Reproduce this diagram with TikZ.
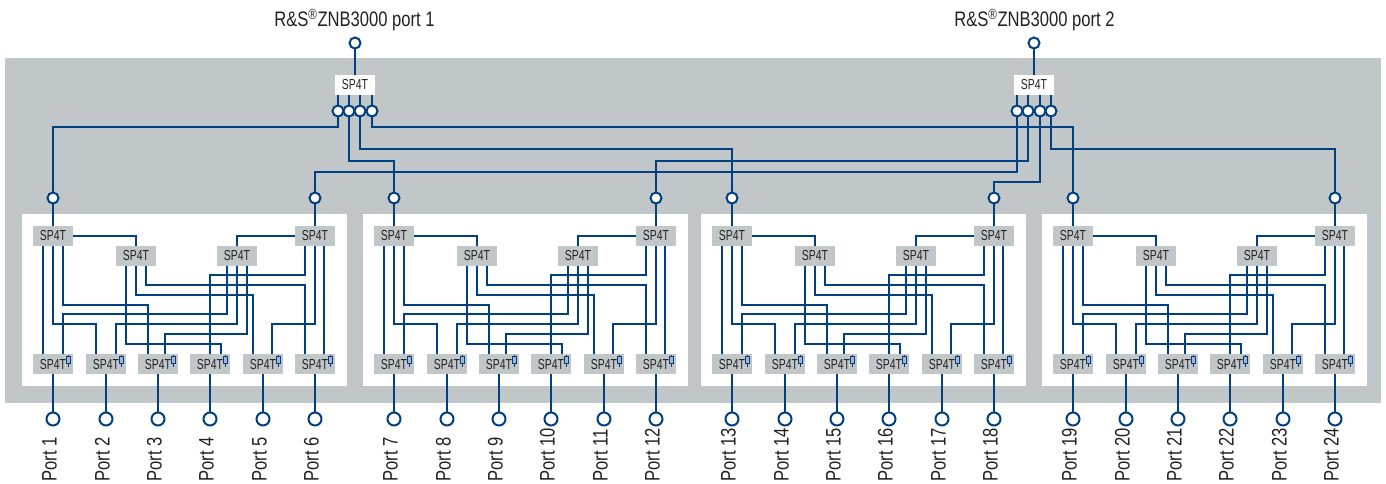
\documentclass[tikz,border=0pt]{standalone}
\usepackage{fontspec}
\setmainfont[FakeStretch=0.79]{Liberation Sans}
\newfontfamily\swfont[FakeStretch=0.72]{Liberation Sans}
\definecolor{bluel}{HTML}{004080}
\definecolor{grayb}{HTML}{C1C6C9}
\definecolor{txt}{HTML}{222222}
\tikzset{x=1pt,y=-1pt,
 wire/.style={draw=bluel,line width=1.8pt,line join=miter},
 sw/.style={rectangle,fill=grayb,minimum width=40pt,minimum height=20pt,inner sep=0pt,outer sep=0pt,font=\swfont\fontsize{14.5}{14.5}\selectfont,text=txt},
 swtop/.style={sw,fill=white},
 term/.style={circle,draw=bluel,line width=2pt,fill=white,minimum size=11pt,inner sep=0pt,outer sep=0pt},
 bigterm/.style={term,minimum size=13pt},
 lab/.style={font=\fontsize{21}{21}\selectfont,text=txt,inner sep=0pt},
 ico/.style={draw=bluel,line width=.7pt,fill=blue!10!grayb}}
\newcommand{\icon}[1]{%
 \draw[bluel,line width=.8pt] (#1+15,355)--(#1+15,367);
 \draw[ico] (#1+13,356.5) rectangle (#1+17,363);}
\newcommand{\route}[3]{\draw[wire] (#1) -- ++(0,#2) -| (#3);}
\newcommand{\module}[2]{% x offset, first port number
 \node[fill=white,minimum width=325pt,minimum height=172pt,inner sep=0pt] (wh#2) at (#1+184.5,300) {};
 \foreach \i/\xx in {0/53,1/106,2/158,3/210,4/263,5/315}{
  \pgfmathtruncatemacro{\nn}{#2+\i}
  \node[sw] (b#2x\i) at (#1+\xx,364) {SP4T};
  \node[bigterm] (p\nn) at (#1+\xx,419) {};
  \draw[wire] (b#2x\i.south) -- (p\nn.north);
  \node[lab,rotate=90,anchor=west] (t\nn) at (#1+\xx-3.5,482) {Port \nn};
 }
 \node[sw] (A#2) at (#1+53,236) {SP4T};
 \node[sw] (B#2) at (#1+136,256) {SP4T};
 \node[sw] (C#2) at (#1+237,256) {SP4T};
 \node[sw] (D#2) at (#1+315,236) {SP4T};
 \draw[wire] (A#2.east) -| (B#2.north);
 \draw[wire] (D#2.west) -| (C#2.north);
 % A
 \draw[wire] ([xshift=-10pt]A#2.south) -- ([xshift=-10pt]b#2x0.north);
 \route{A#2.south}{78}{[xshift=-10pt]b#2x1.north}
 \route{[xshift=10pt]A#2.south}{59}{[xshift=-10pt]b#2x2.north}
 % B
 \route{[xshift=-10pt]B#2.south}{78}{[xshift=11pt]b#2x3.north}
 \route{B#2.south}{29}{[xshift=-10pt]b#2x4.north}
 \route{[xshift=10pt]B#2.south}{19}{[xshift=-10pt]b#2x5.north}
 % C
 \route{[xshift=-10pt]C#2.south}{48}{[xshift=10pt]b#2x0.north}
 \route{C#2.south}{58}{[xshift=10pt]b#2x1.north}
 \route{[xshift=10pt]C#2.south}{68}{[xshift=7pt]b#2x2.north}
 % D
 \route{[xshift=-10pt]D#2.south}{29}{b#2x3.north}
 \route{D#2.south}{78}{[xshift=9pt]b#2x4.north}
 \draw[wire] ([xshift=9pt]D#2.south) -- ([xshift=9pt]b#2x5.north);
 \foreach \xx in {53,106,158,210,263,315}{\icon{#1+\xx}}
}
\begin{document}
\begin{tikzpicture}
\useasboundingbox (0,0) rectangle (1386,483);
\node[fill=grayb,minimum width=1376pt,minimum height=345pt,inner sep=0pt] (bg) at (693,230.5) {};
\module{0}{1}
\module{341}{7}
\module{679}{13}
\module{1020}{19}
% top switches
\node[swtop] (T1) at (355,85) {SP4T};
\node[swtop] (T2) at (1034,85) {SP4T};
\node[term] (P1) at (355,43) {};
\node[term] (P2) at (1034,43) {};
\draw[wire] (P1.south) -- (T1.north);
\draw[wire] (P2.south) -- (T2.north);
\node[lab] (L1) at (354.5,20) {R\&S\textsuperscript{®}ZNB3000 port 1};
\node[lab] (L2) at (1034.5,20) {R\&S\textsuperscript{®}ZNB3000 port 2};
% circles at module inputs
\foreach \n/\x/\m in {a/53/A1,b/315/D1,c/394/A7,d/656/D7,e/732/A13,f/994/D13,g/1073/A19,h/1335/D19}{
 \node[term] (in\n) at (\x,198) {};
 \draw[wire] (in\n.south) -- (\m.north);
}
% output circles
\foreach \n/\d in {1/-17,2/-6,3/5,4/17}{
 \node[term] (u\n) at (355+\d,111) {};
 \draw[wire] ([xshift=\d pt]T1.south) -- (u\n.north);
}
\foreach \n/\d in {1/-17,2/-6,3/6,4/17}{
 \node[term] (v\n) at (1034+\d,111) {};
 \draw[wire] ([xshift=\d pt]T2.south) -- (v\n.north);
}
% routing
\route{u1.south}{10.5}{ina.north}
\route{u2.south}{44.5}{inc.north}
\route{u3.south}{32.5}{ine.north}
\route{u4.south}{10.5}{ing.north}
\route{v1.south}{55.5}{inb.north}
\route{v2.south}{44.5}{ind.north}
\route{v3.south}{65.5}{inf.north}
\route{v4.south}{32.5}{inh.north}
\end{tikzpicture}
\end{document}
